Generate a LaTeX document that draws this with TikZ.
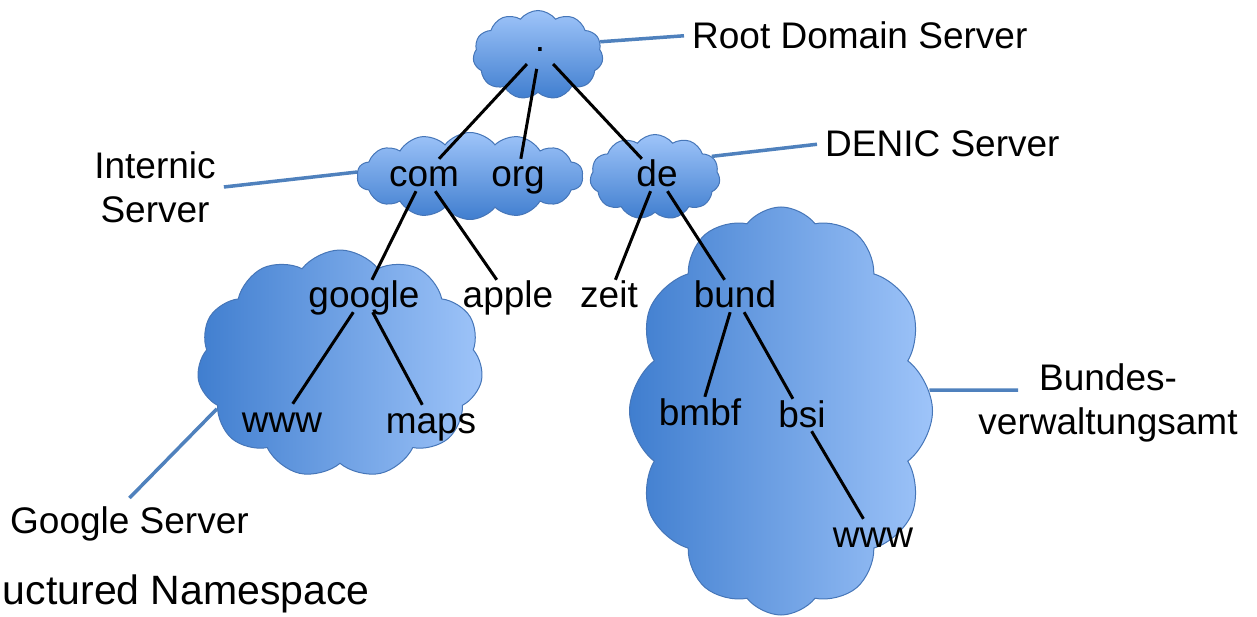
\documentclass[tikz,border=0pt]{standalone}
\usepackage{fontspec}
\setmainfont{Liberation Sans}
\usepackage{tikz}
\usetikzlibrary{shapes.symbols}
\definecolor{CloudDark}{RGB}{64,126,207}
\definecolor{CloudLight}{RGB}{158,196,249}
\definecolor{CloudEdge}{RGB}{70,118,184}
\definecolor{CallBlue}{RGB}{79,129,189}

\tikzset{
	puffcloud/.style={cloud, cloud ignores aspect, cloud puff arc=105, draw=CloudEdge, line width=1pt, inner sep=0pt},
	hshade/.style={left color=CloudDark, right color=CloudLight},
	vshade/.style={top color=CloudLight, bottom color=CloudDark},
	lbl/.style={font=\fontsize{37}{44}\selectfont, text height=26pt, text depth=2pt, inner sep=2pt},
	note/.style={font=\fontsize{37}{44}\selectfont, inner sep=8pt},
	branch/.style={black, line width=3pt},
	callout/.style={CallBlue, line width=3.5pt}
}

\begin{document}
\begin{tikzpicture}[x=1pt, y=-1pt]
	\useasboundingbox (0, 0) rectangle (1257, 617);
	% server clouds
	\node[puffcloud, hshade, cloud puffs=12, minimum width=303pt, minimum height=408pt] (bundcloud) at (781, 411) {};
	\node[puffcloud, hshade, cloud puffs=11, minimum width=286pt, minimum height=228pt] (googlecloud) at (340, 364) {};
	\node[puffcloud, vshade, cloud puffs=11, minimum width=130pt, minimum height=89pt] (rootcloud) at (538, 55) {};
	\node[puffcloud, vshade, cloud puffs=14, minimum width=226pt, minimum height=87pt] (netcloud) at (470, 176) {};
	\node[puffcloud, vshade, cloud puffs=11, minimum width=130pt, minimum height=85pt] (decloud) at (655, 177) {};
	% root
	\node[circle, minimum size=38pt, inner sep=0pt, font=\fontsize{37}{44}\selectfont] (root) at (540, 50) {.};
	% top level domains
	\node[lbl, anchor=base] (com) at (424, 187) {com};
	\node[lbl, anchor=base] (org) at (518, 187) {org};
	\node[lbl, anchor=base] (de) at (657, 187) {de};
	% second level
	\node[lbl, anchor=base] (google) at (364, 308) {google};
	\node[lbl, anchor=base] (apple) at (508, 308) {apple};
	\node[lbl, anchor=base] (zeit) at (609, 308) {zeit};
	\node[lbl, anchor=base] (bund) at (735, 308) {bund};
	% hosts
	\node[lbl, anchor=base] (www) at (282, 432) {www};
	\node[lbl, anchor=base] (maps) at (431, 433) {maps};
	\node[lbl, anchor=base] (bmbf) at (700, 425) {bmbf};
	\node[lbl, anchor=base] (bsi) at (802, 427) {bsi};
	\node[lbl, anchor=base] (bsiwww) at (873, 547) {www};
	% tree edges
	\foreach \a/\b in {root/com, root/org, root/de, com/google, com/apple, de/zeit, de/bund,
		google/www, google/maps, bund/bmbf, bund/bsi, bsi/bsiwww}{
		\draw[branch] (\a) -- (\b);
	}
	% server labels
	\node[note, anchor=base west] (rootlbl) at (684, 49) {Root Domain Server};
	\node[note, anchor=base west] (deniclbl) at (817, 157) {DENIC Server};
	\node[note, align=center] (internlbl) at (155, 187) {Internic\\Server};
	\node[note, anchor=base west] (googlelbl) at (2, 533) {Google Server};
	\node[note, align=center] (bundeslbl) at (1108, 403) {Bundes-\\verwaltungsamt};
	\coordinate (bundestip) at (1018, 390);
	% callouts
	\draw[callout] (rootcloud.12) -- (rootlbl.west);
	\draw[callout] (decloud.20) -- (deniclbl.west);
	\draw[callout] (netcloud.178) -- (internlbl.east);
	\draw[callout] (googlecloud.200) -- (googlelbl.north);
	\draw[callout] (bundcloud.8) -- (bundestip);
	% caption
	\node[anchor=base east, inner sep=0pt, font=\fontsize{41}{48}\selectfont] (title) at (370, 604) {uctured Namespace};
\end{tikzpicture}
\end{document}
